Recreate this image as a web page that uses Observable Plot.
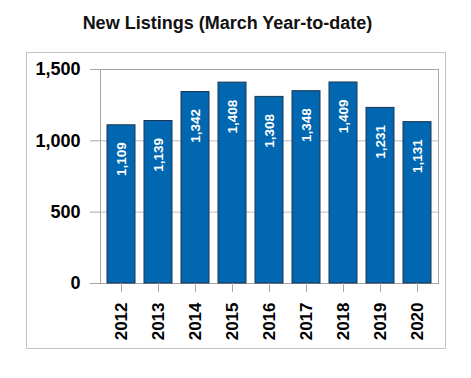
<!DOCTYPE html>
<html>
<head>
<meta charset="utf-8">
<script src="https://cdn.jsdelivr.net/npm/d3@7"></script>
<script src="https://cdn.jsdelivr.net/npm/@observablehq/plot@0.6"></script>
<style>
  body { margin: 0; background: #fff; width: 471px; height: 378px; position: relative; overflow: hidden; }
  #title { position: absolute; left: 0; top: 13px; width: 455px; text-align: center;
           font: bold 18px "Liberation Sans", Arial, sans-serif; line-height: 20px; color: #111; }
  #box { position: absolute; left: 26px; top: 52px; width: 418px; height: 295px; border: 1px solid #c4c4c4; }
  #box svg { display: block; }
</style>
</head>
<body>
<div id="title">New Listings (March Year-to-date)</div>
<div id="box"></div>
<script>
const years = ["2012", "2013", "2014", "2015", "2016", "2017", "2018", "2019", "2020"];
const listings = [1109, 1139, 1342, 1408, 1308, 1348, 1409, 1231, 1131];
const yTicks = [0, 500, 1000, 1500];
const gridTicks = [500, 1000];

const data = years.map((year, i) => ({year, value: listings[i]}));
const fmt = d3.format(",");

const chart = Plot.plot({
  width: 418,
  height: 295,
  marginLeft: 73,
  marginRight: 7,
  marginTop: 16,
  marginBottom: 65,
  style: {background: "transparent", overflow: "visible"},
  x: {domain: years, paddingInner: 0.245, paddingOuter: 0.18},
  y: {domain: [0, 1500]},
  marks: [
    Plot.gridY(gridTicks, {stroke: "#bdbdbd", strokeOpacity: 1}),
    Plot.frame({stroke: "#a6a6a6"}),
    Plot.barY(data, {x: "year", y: "value", fill: "#0067b0", stroke: "#1d3550", strokeWidth: 1}),
    Plot.text(data, {x: "year", y: "value", text: d => fmt(d.value), rotate: -90, textAnchor: "end",
      dy: 17, fill: "#fff", fontSize: 13.5, fontWeight: "bold", fontFamily: "Liberation Sans, Arial, sans-serif"}),
    Plot.axisY(yTicks, {tickSize: 10, tickPadding: 10, stroke: "#a6a6a6", fill: "#000",
      fontSize: 18, fontWeight: "bold", fontFamily: "Liberation Sans, Arial, sans-serif", label: null, tickFormat: fmt}),
    Plot.axisX({tickSize: 9, tickPadding: 10, tickRotate: -90, stroke: "#a6a6a6", fill: "#000",
      fontSize: 17, fontWeight: "bold", fontFamily: "Liberation Sans, Arial, sans-serif", label: null})
  ]
});
document.getElementById("box").appendChild(chart);
</script>
</body>
</html>
